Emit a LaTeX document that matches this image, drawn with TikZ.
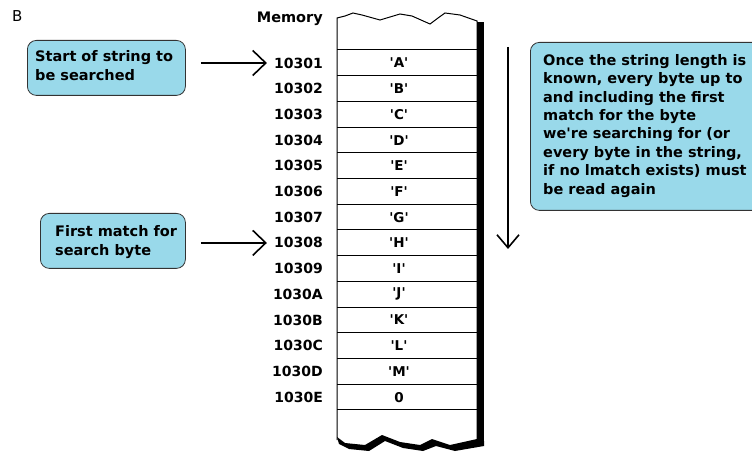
\documentclass[tikz,border=0pt]{standalone}
\usepackage{fontspec}
\setmainfont{DejaVu Sans}
\usetikzlibrary{arrows.meta}
\definecolor{boxblue}{HTML}{99D9EA}
\newcommand\sq[1]{\textquotesingle#1\textquotesingle}
\tikzset{
  note/.style={draw=black!80, line width=0.8pt, fill=boxblue, rounded corners=9pt, align=left, inner sep=0pt, font=\bfseries\fontsize{14.5}{18.2}\selectfont},
  notetext/.style={anchor=north west, align=left, inner sep=0pt, font=\bfseries\fontsize{14.5}{18.4}\selectfont},
  addr/.style={anchor=east, inner sep=0pt, font=\bfseries\fontsize{14}{16}\selectfont},
  cell/.style={inner sep=0pt, font=\bfseries\fontsize{13.5}{16}\selectfont},
  bigarrow/.style={line width=1.6pt, -{Straight Barb[length=13pt,width=25pt,line width=1.6pt]}},
}
\begin{document}
\begin{tikzpicture}[x=1pt,y=-1pt]
\useasboundingbox (0,0) rectangle (752,454);
\clip (0,0) rectangle (752,454);
% label B
\node[anchor=west, inner sep=0pt, font=\fontsize{15}{17}\selectfont] (lb) at (12,16) {B};
\node[anchor=east, inner sep=0pt, font=\bfseries\fontsize{14.5}{16}\selectfont] (mem) at (323,19) {Memory};
% memory column
\draw[line width=1pt] (337,440) -- (337,18) -- (345,16) -- (353,13) -- (362,15) -- (380,20) -- (390,17) -- (400,14) -- (412,16) -- (430,24) -- (438,18) -- (445,13) -- (460,15) -- (477,21) -- (477,440);
\fill (477,22) rectangle (484,446);
\foreach \k in {0,...,14} {
  \draw[line width=1pt] (337,{50+25.7*\k}) -- (477,{50+25.7*\k});
}
\fill (337,437) -- (345,443) -- (365,445) -- (382,435) -- (400,442) -- (420,445) -- (432,439) -- (450,445) -- (477,439) -- (484,441)
  -- (484,446) -- (455,451) -- (436,446) -- (423,451) -- (403,448) -- (385,441) -- (369,451) -- (349,449) -- (339,444) -- cycle;
% addresses and cells
\foreach \a/\c [count=\i from 0] in {10301/\sq{A},10302/\sq{B},10303/\sq{C},10304/\sq{D},10305/\sq{E},10306/\sq{F},10307/\sq{G},10308/\sq{H},10309/\sq{I},1030A/\sq{J},1030B/\sq{K},1030C/\sq{L},1030D/\sq{M},1030E/0} {
  \node[addr] (a\i) at (323,{63+25.7*\i}) {\a};
  \node[cell] (c\i) at (399,{63+25.7*\i}) {\c};
}
% notes
\node[note, minimum width=158pt, minimum height=55pt, anchor=north west] (s1) at (27,40) {};
\node[notetext] (t1) at (35,50.5) {Start of string to\\be searched};
\node[note, minimum width=145pt, minimum height=55pt, anchor=north west] (s2) at (40,213) {};
\node[notetext] (t2) at (55,225.5) {First match for\\search byte};
\node[note, minimum width=240pt, minimum height=168pt, anchor=north west] (s3) at (530,42) {};
\node[notetext] (t3) at (543,54) {Once the string length is\\known, every byte up to\\and including the first\\match for the byte\\we\textquotesingle re searching for (or\\every byte in the string,\\if no lmatch exists) must\\be read again};
% arrows
\draw[bigarrow, shorten >=7pt] ([xshift=15pt]s1.east |- a0.west) -- (a0.west);
\draw[bigarrow, shorten >=7pt] ([xshift=15pt]s2.east |- a7.west) -- (a7.west);
\coordinate (dtop) at (508,47);
\coordinate (dbot) at (508,249);
\draw[line width=1.6pt, -{Straight Barb[length=13pt,width=22pt,line width=1.6pt]}] (dtop) -- (dbot);
\end{tikzpicture}
\end{document}
